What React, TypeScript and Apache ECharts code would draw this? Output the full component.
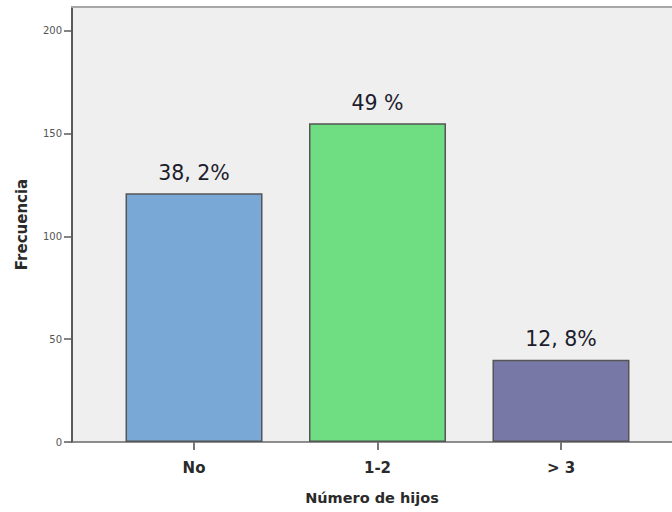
import React, { useEffect, useRef } from "react";
import * as echarts from "echarts";

// Number of children per respondent: frequency and share of total
const categories = ["No", "1-2", "> 3"];
const positions = [1, 2, 3];
const frequencies = [121, 155, 40];
const percentLabels = ["38, 2%", "49 %", "12, 8%"];
const barColors = ["#79a8d6", "#6fdd82", "#7878a6"];
const yTicks = [0, 50, 100, 150, 200];

export default function App() {
  const ref = useRef<HTMLDivElement>(null);

  useEffect(() => {
    if (!ref.current) return;
    const chart = echarts.init(ref.current, null, { renderer: "svg" });
    const font = "DejaVu Sans";
    chart.setOption({
      animation: false,
      backgroundColor: "#ffffff",
      grid: {
        left: 72,
        right: 0,
        top: 7,
        bottom: 70,
        show: true,
        backgroundColor: "#efefef",
        borderWidth: 0,
      },
      xAxis: [
        {
          type: "value",
          min: 0.335,
          max: 3.605,
          position: "bottom",
          splitLine: { show: false },
          axisLine: { show: true, lineStyle: { color: "#6a6a6a", width: 1.5 } },
          axisTick: {
            show: true,
            customValues: positions,
            length: 8,
            lineStyle: { color: "#777777", width: 2 },
          },
          axisLabel: {
            customValues: positions,
            formatter: (v: number) => categories[positions.indexOf(Math.round(v))] ?? "",
            fontFamily: font,
            fontSize: 15,
            fontWeight: "bold",
            color: "#2a2a2a",
            margin: 18,
          },
          name: "Número de hijos",
          nameLocation: "middle",
          nameGap: 48,
          nameTextStyle: {
            fontFamily: font,
            fontSize: 14.5,
            fontWeight: "bold",
            color: "#2a2a2a",
          },
        },
        {
          type: "value",
          min: 0.335,
          max: 3.605,
          position: "top",
          splitLine: { show: false },
          axisLine: { show: true, lineStyle: { color: "#a8a8a8", width: 2 } },
          axisTick: { show: false },
          axisLabel: { show: false },
        },
      ],
      yAxis: {
        type: "value",
        min: 0,
        max: 211.5,
        interval: 50,
        splitLine: { show: false },
        axisLine: { show: true, lineStyle: { color: "#5a5a5a", width: 2 } },
        axisTick: {
          show: true,
          customValues: yTicks,
          length: 8,
          lineStyle: { color: "#5a5a5a", width: 1.5 },
        },
        axisLabel: {
          customValues: yTicks,
          fontFamily: font,
          fontSize: 10,
          color: "#555555",
          margin: 10,
        },
        name: "Frecuencia",
        nameLocation: "middle",
        nameGap: 43,
        nameTextStyle: {
          fontFamily: font,
          fontSize: 15,
          fontWeight: "bold",
          color: "#2a2a2a",
        },
      },
      series: [
        {
          type: "bar",
          xAxisIndex: 0,
          barWidth: 137,
          data: positions.map((p, i) => ({
            value: [p, frequencies[i]],
            itemStyle: {
              color: barColors[i],
              borderColor: "#555555",
              borderWidth: 1.5,
            },
            label: {
              show: true,
              position: "top",
              distance: 10,
              formatter: percentLabels[i],
              fontFamily: font,
              fontSize: 20.5,
              color: "#1c1c2c",
            },
          })),
        },
      ],
    });
    return () => chart.dispose();
  }, []);

  return (
    <div
      ref={ref}
      style={{ position: "fixed", left: 0, top: 0, width: 672, height: 512 }}
    />
  );
}
